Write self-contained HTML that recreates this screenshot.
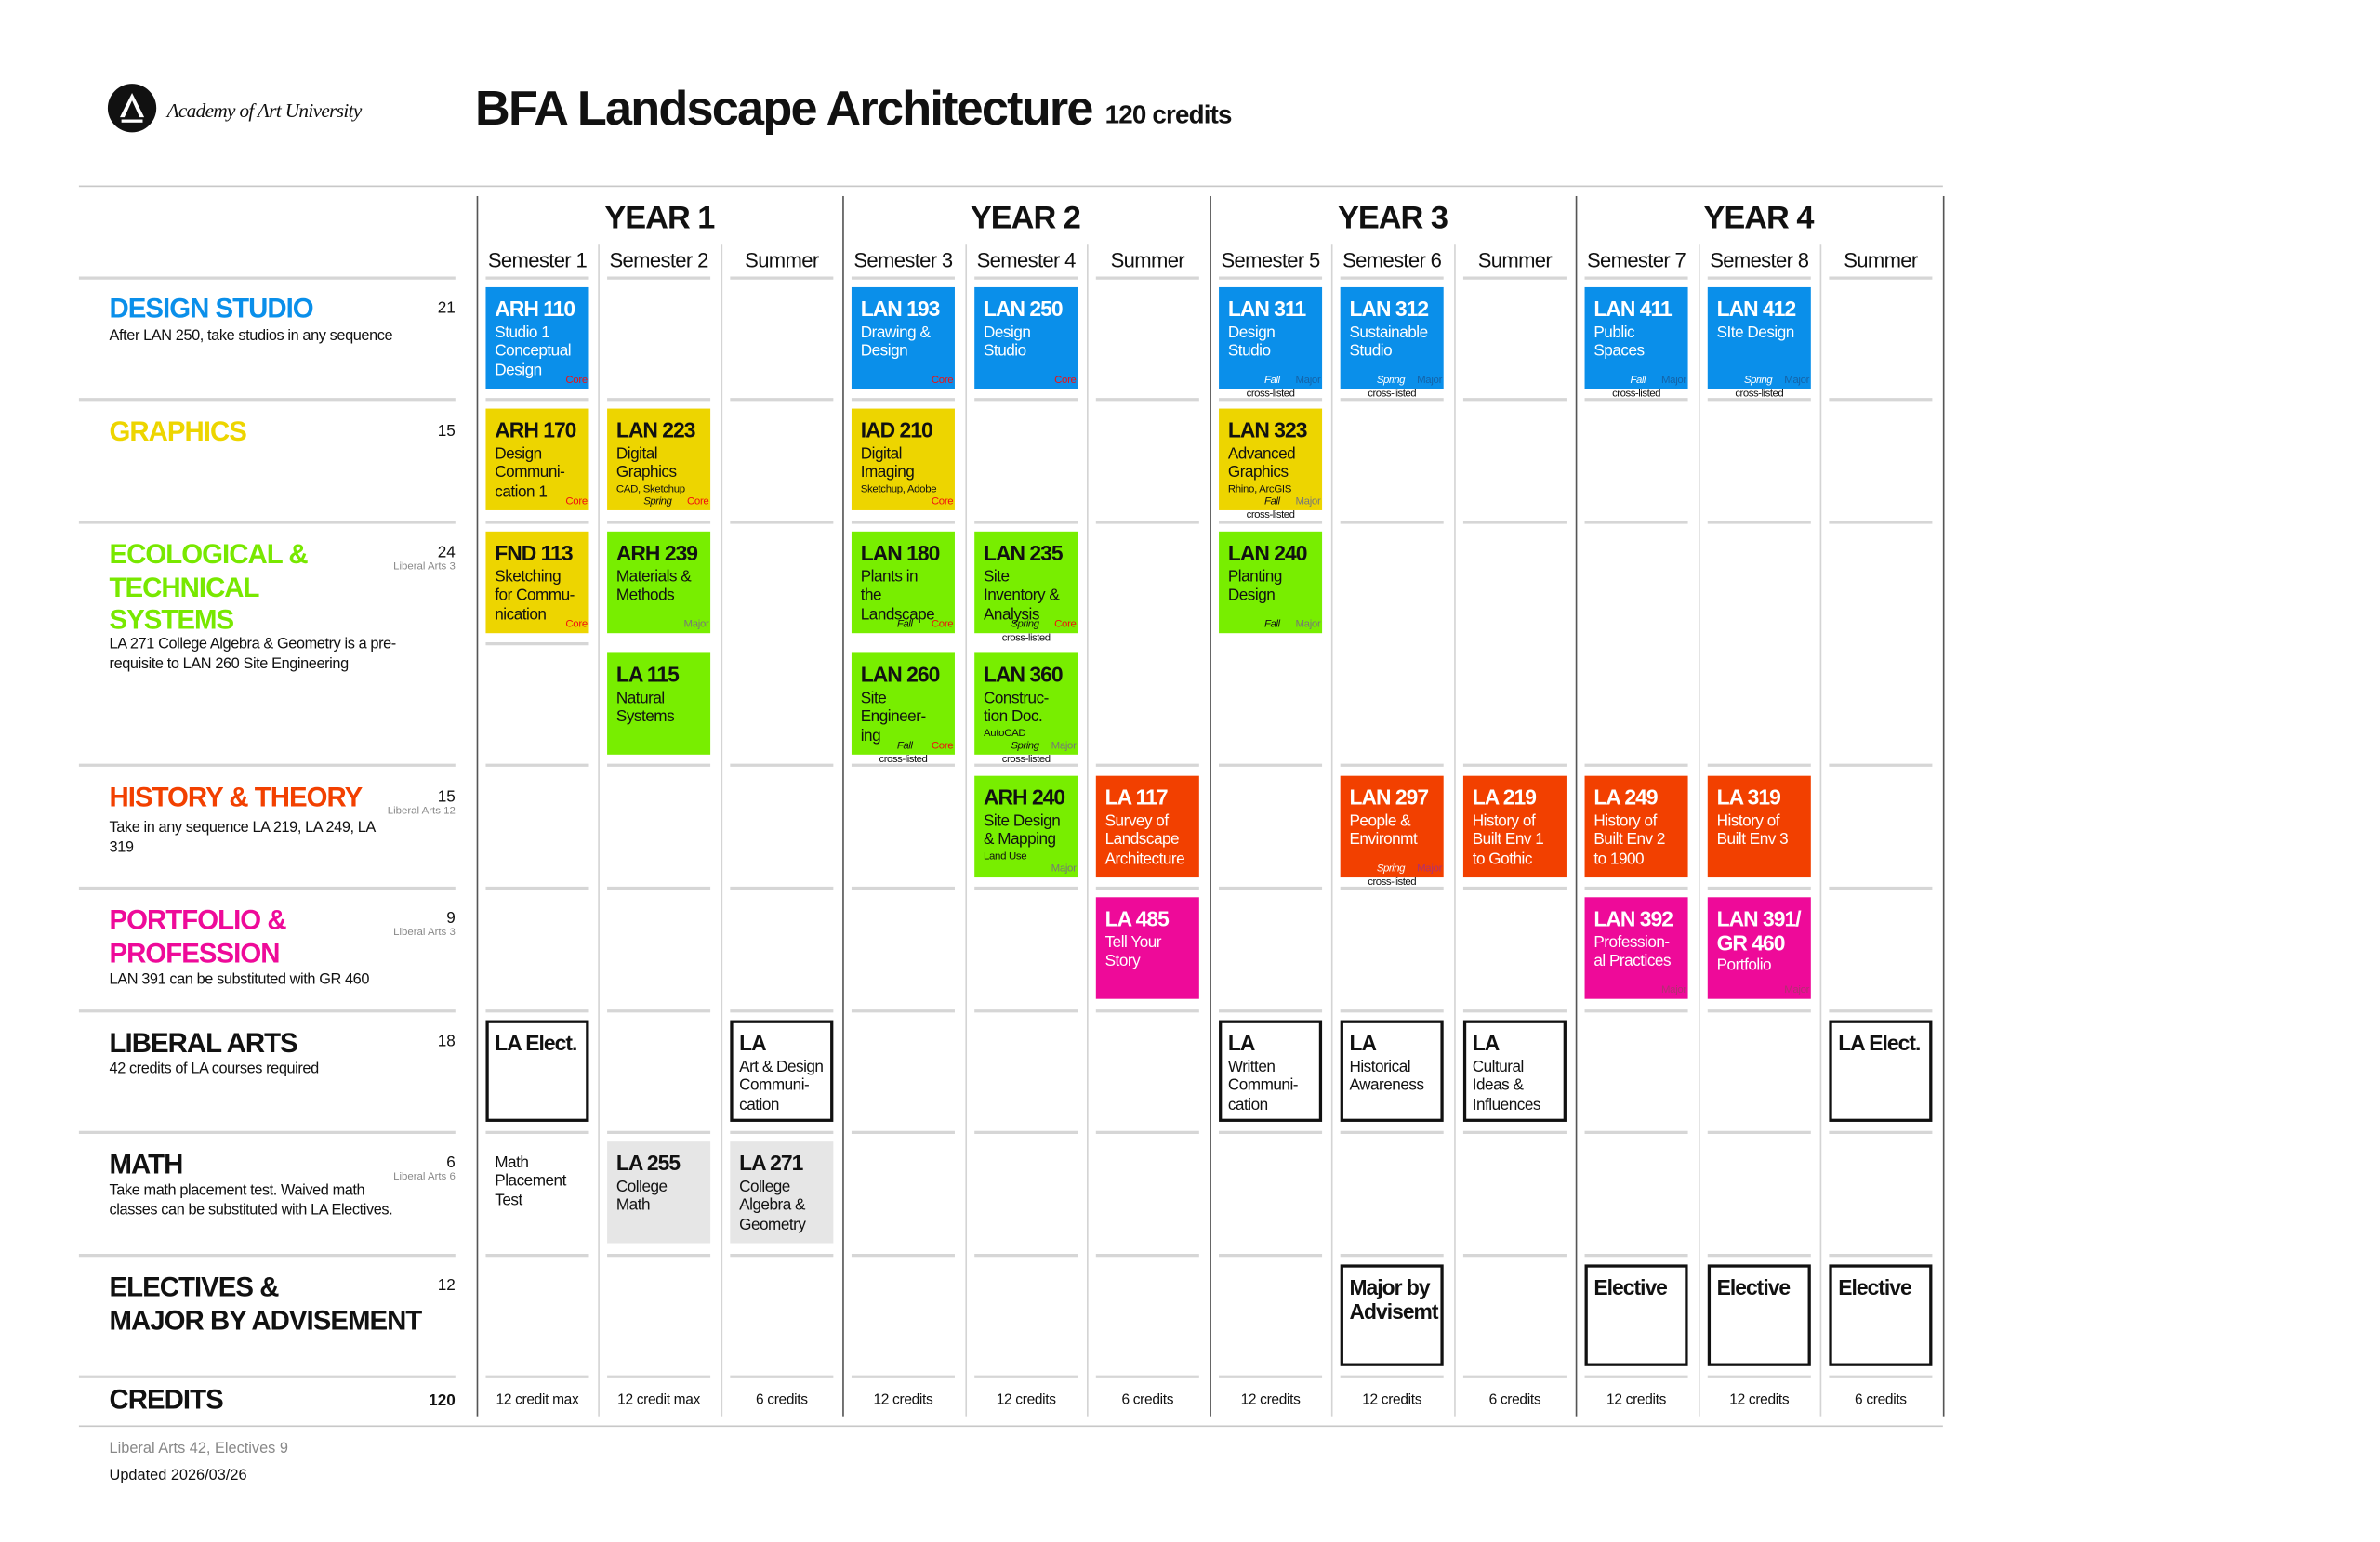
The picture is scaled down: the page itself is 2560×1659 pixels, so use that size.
<!DOCTYPE html>
<html><head><meta charset="utf-8"><style>
html,body{margin:0;padding:0;background:#fff;}
body{width:2560px;height:1656px;overflow:hidden;position:relative;}
#w{position:absolute;left:0;top:2px;width:1568px;height:1015px;transform:scale(1.6327);transform-origin:0 0;font-family:"Liberation Sans",Arial,sans-serif;color:#111;}
#w div{position:absolute;}
.vy{width:1px;background:#555;top:128px;height:804px;}
.vs{width:1px;background:#d4d4d4;top:160px;height:772px;}
.yr{font-weight:bold;font-size:21px;letter-spacing:-0.6px;width:241px;text-align:center;top:131px;}
.sm{font-size:13.5px;letter-spacing:-0.4px;width:80px;text-align:center;top:163px;}
.b{width:68px;height:67px;padding:6px 5px 5px 6px;box-sizing:border-box;font-size:10.5px;letter-spacing:-0.3px;line-height:12.3px;overflow:visible;white-space:nowrap;}
.b b{display:block;font-size:14px;letter-spacing:-0.6px;line-height:17px;margin-bottom:1px;}
.b i.s{display:block;font-style:normal;font-size:7px;line-height:9px;letter-spacing:-0.2px;}
.bl{background:#0A8FEA;color:#fff;}
.ye{background:#EDD500;color:#111;}
.gr{background:#78EE00;color:#111;}
.or{background:#F24000;color:#fff;}
.mg{background:#EE0A99;color:#fff;}
.gy{background:#e6e6e6;color:#111;}
.bx{background:#fff;border:2px solid #111;padding:5px 4px;}
.tg{font-size:7px;line-height:8px;bottom:1px;right:1px;letter-spacing:-0.2px;}
.core{color:#f01010;}
.maj{color:#777;}
.bl .maj{color:#1463a8;}
.or .maj,.mg .maj{color:#b03070;}
.fs{font-size:7px;line-height:8px;font-style:italic;bottom:1px;}
.cl{font-size:7px;line-height:8px;bottom:-8px;left:0;width:68px;text-align:center;color:#111;}
.ht{left:72px;font-weight:bold;font-size:18px;letter-spacing:-0.6px;line-height:21.5px;white-space:nowrap;}
.hs{left:72px;font-size:10px;letter-spacing:-0.25px;line-height:13px;color:#111;width:200px;}
.cn{right:1268px;font-size:10.5px;text-align:right;}
.la{right:1268px;font-size:7px;color:#888;text-align:right;white-space:nowrap;}
.cr{font-size:9.5px;letter-spacing:-0.2px;width:80px;text-align:center;top:916px;}
</style></head><body><div id="w">

<div style="left:71px;top:54px;width:32px;height:32px;border-radius:50%;background:#111;"></div>
<svg style="position:absolute;left:71px;top:54px" width="32" height="32" viewBox="0 0 32 32"><path d="M16 6 L8 22 L11 22 L16 11 L21 22 L24 22 Z" fill="#fff"/><rect x="9" y="23.5" width="14" height="2" fill="#fff"/></svg>
<div style="left:110px;top:64px;font-family:'Liberation Serif',serif;font-style:italic;font-size:13px;letter-spacing:-0.4px;">Academy of Art University</div>
<div style="left:313px;top:52px;font-weight:bold;font-size:32px;letter-spacing:-1.1px;">BFA Landscape Architecture</div>
<div style="left:728px;top:65px;font-weight:bold;font-size:17px;letter-spacing:-0.5px;">120 credits</div>

<div style="left:52px;top:121px;width:1228px;height:1px;background:#c8c8c8;"></div>
<div style="left:52px;top:938px;width:1228px;height:1px;background:#c8c8c8;"></div>

<div class="vy" style="left:314px"></div><div class="vy" style="left:555px"></div><div class="vy" style="left:797px"></div><div class="vy" style="left:1038px"></div><div class="vy" style="left:1280px"></div>
<div class="vs" style="left:394px"></div><div class="vs" style="left:475px"></div>
<div class="vs" style="left:636px"></div><div class="vs" style="left:716px"></div>
<div class="vs" style="left:877px"></div><div class="vs" style="left:958px"></div>
<div class="vs" style="left:1119px"></div><div class="vs" style="left:1199px"></div>

<div class="yr" style="left:314px">YEAR 1</div><div class="yr" style="left:555px">YEAR 2</div><div class="yr" style="left:797px">YEAR 3</div><div class="yr" style="left:1038px">YEAR 4</div>
<div class="sm" style="left:314px">Semester 1</div><div class="sm" style="left:394px">Semester 2</div><div class="sm" style="left:475px">Summer</div>
<div class="sm" style="left:555px">Semester 3</div><div class="sm" style="left:636px">Semester 4</div><div class="sm" style="left:716px">Summer</div>
<div class="sm" style="left:797px">Semester 5</div><div class="sm" style="left:877px">Semester 6</div><div class="sm" style="left:958px">Summer</div>
<div class="sm" style="left:1038px">Semester 7</div><div class="sm" style="left:1119px">Semester 8</div><div class="sm" style="left:1199px">Summer</div>

<svg style="position:absolute;left:0;top:0" width="1568" height="1015">
<defs><path id="r" d="M320 0h68M400 0h68M481 0h68M561 0h68M642 0h68M722 0h68M803 0h68M883 0h68M964 0h68M1044 0h68M1125 0h68M1205 0h68"/></defs>
<g stroke="#d6d6d6" stroke-width="2">
<path d="M52 182H300M52 262H300M52 343H300M52 503H300M52 584H300M52 665H300M52 745H300M52 826H300M52 906H300"/>
<use href="#r" y="182"/><use href="#r" y="262"/><use href="#r" y="343"/><use href="#r" y="503"/><use href="#r" y="584"/><use href="#r" y="665"/><use href="#r" y="745"/><use href="#r" y="826"/><use href="#r" y="906"/>
<path d="M320 423h68"/>
</g></svg>

<div class="ht" style="top:192px;color:#0A8FEA">DESIGN STUDIO</div>
<div class="cn" style="top:196px">21</div>
<div class="hs" style="top:214px">After LAN 250, take studios in any sequence</div>

<div class="ht" style="top:273px;color:#EDD500">GRAPHICS</div>
<div class="cn" style="top:277px">15</div>

<div class="ht" style="top:354px;color:#78E800">ECOLOGICAL &amp;<br>TECHNICAL<br>SYSTEMS</div>
<div class="cn" style="top:357px">24</div>
<div class="la" style="top:369px">Liberal Arts 3</div>
<div class="hs" style="top:417px;width:190px">LA 271 College Algebra &amp; Geometry is a pre-requisite to LAN 260 Site Engineering</div>

<div class="ht" style="top:514px;color:#F24000">HISTORY &amp; THEORY</div>
<div class="cn" style="top:518px">15</div>
<div class="la" style="top:530px">Liberal Arts 12</div>
<div class="hs" style="top:538px;width:175px">Take in any sequence LA 219, LA 249, LA 319</div>

<div class="ht" style="top:595px;color:#EE0A99">PORTFOLIO &amp;<br>PROFESSION</div>
<div class="cn" style="top:598px">9</div>
<div class="la" style="top:610px">Liberal Arts 3</div>
<div class="hs" style="top:638px">LAN 391 can be substituted with GR 460</div>

<div class="ht" style="top:676px">LIBERAL ARTS</div>
<div class="cn" style="top:679px">18</div>
<div class="hs" style="top:697px">42 credits of LA courses required</div>

<div class="ht" style="top:756px">MATH</div>
<div class="cn" style="top:759px">6</div>
<div class="la" style="top:771px">Liberal Arts 6</div>
<div class="hs" style="top:777px;width:200px">Take math placement test. Waived math classes can be substituted with LA Electives.</div>

<div class="ht" style="top:837px">ELECTIVES &amp;<br>MAJOR BY ADVISEMENT</div>
<div class="cn" style="top:840px">12</div>

<div class="ht" style="top:911px">CREDITS</div>
<div class="cn" style="top:916px;font-weight:bold">120</div>

<div class="b bl" style="left:320px;top:188px"><b>ARH 110</b>Studio 1<br>Conceptual<br>Design<div class="tg core">Core</div></div>
<div class="b bl" style="left:561px;top:188px"><b>LAN 193</b>Drawing &amp;<br>Design<div class="tg core">Core</div></div>
<div class="b bl" style="left:642px;top:188px"><b>LAN 250</b>Design<br>Studio<div class="tg core">Core</div></div>
<div class="b bl" style="left:803px;top:188px"><b>LAN 311</b>Design<br>Studio<div class="fs" style="left:30px">Fall</div><div class="tg maj">Major</div><div class="cl">cross-listed</div></div>
<div class="b bl" style="left:883px;top:188px"><b>LAN 312</b>Sustainable<br>Studio<div class="fs" style="left:24px">Spring</div><div class="tg maj">Major</div><div class="cl">cross-listed</div></div>
<div class="b bl" style="left:1044px;top:188px"><b>LAN 411</b>Public<br>Spaces<div class="fs" style="left:30px">Fall</div><div class="tg maj">Major</div><div class="cl">cross-listed</div></div>
<div class="b bl" style="left:1125px;top:188px"><b>LAN 412</b>SIte Design<div class="fs" style="left:24px">Spring</div><div class="tg maj">Major</div><div class="cl">cross-listed</div></div>

<div class="b ye" style="left:320px;top:268px"><b>ARH 170</b>Design<br>Communi-<br>cation 1<div class="tg core">Core</div></div>
<div class="b ye" style="left:400px;top:268px"><b>LAN 223</b>Digital<br>Graphics<i class="s">CAD, Sketchup</i><div class="fs" style="left:24px">Spring</div><div class="tg core">Core</div></div>
<div class="b ye" style="left:561px;top:268px"><b>IAD 210</b>Digital<br>Imaging<i class="s">Sketchup, Adobe</i><div class="tg core">Core</div></div>
<div class="b ye" style="left:803px;top:268px"><b>LAN 323</b>Advanced<br>Graphics<i class="s">Rhino, ArcGIS</i><div class="fs" style="left:30px">Fall</div><div class="tg maj">Major</div><div class="cl">cross-listed</div></div>

<div class="b ye" style="left:320px;top:349px"><b>FND 113</b>Sketching<br>for Commu-<br>nication<div class="tg core">Core</div></div>
<div class="b gr" style="left:400px;top:349px"><b>ARH 239</b>Materials &amp;<br>Methods<div class="tg maj">Major</div></div>
<div class="b gr" style="left:561px;top:349px"><b>LAN 180</b>Plants in<br>the<br>Landscape<div class="fs" style="left:30px">Fall</div><div class="tg core">Core</div></div>
<div class="b gr" style="left:642px;top:349px"><b>LAN 235</b>Site<br>Inventory &amp;<br>Analysis<div class="fs" style="left:24px">Spring</div><div class="tg core">Core</div><div class="cl">cross-listed</div></div>
<div class="b gr" style="left:803px;top:349px"><b>LAN 240</b>Planting<br>Design<div class="fs" style="left:30px">Fall</div><div class="tg maj">Major</div></div>

<div class="b gr" style="left:400px;top:429px"><b>LA 115</b>Natural<br>Systems</div>
<div class="b gr" style="left:561px;top:429px"><b>LAN 260</b>Site<br>Engineer-<br>ing<div class="fs" style="left:30px">Fall</div><div class="tg core">Core</div><div class="cl">cross-listed</div></div>
<div class="b gr" style="left:642px;top:429px"><b>LAN 360</b>Construc-<br>tion Doc.<i class="s">AutoCAD</i><div class="fs" style="left:24px">Spring</div><div class="tg maj">Major</div><div class="cl">cross-listed</div></div>

<div class="b gr" style="left:642px;top:510px"><b>ARH 240</b>Site Design<br>&amp; Mapping<i class="s">Land Use</i><div class="tg maj">Major</div></div>
<div class="b or" style="left:722px;top:510px"><b>LA 117</b>Survey of<br>Landscape<br>Architecture</div>
<div class="b or" style="left:883px;top:510px"><b>LAN 297</b>People &amp;<br>Environmt<div class="fs" style="left:24px">Spring</div><div class="tg maj">Major</div><div class="cl">cross-listed</div></div>
<div class="b or" style="left:964px;top:510px"><b>LA 219</b>History of<br>Built Env 1<br>to Gothic</div>
<div class="b or" style="left:1044px;top:510px"><b>LA 249</b>History of<br>Built Env 2<br>to 1900</div>
<div class="b or" style="left:1125px;top:510px"><b>LA 319</b>History of<br>Built Env 3</div>

<div class="b mg" style="left:722px;top:590px"><b>LA 485</b>Tell Your<br>Story</div>
<div class="b mg" style="left:1044px;top:590px"><b>LAN 392</b>Profession-<br>al Practices<div class="tg maj">Major</div></div>
<div class="b mg" style="left:1125px;top:590px"><b style="line-height:16px">LAN 391/<br>GR 460</b>Portfolio<div class="tg maj">Major</div></div>

<div class="b bx" style="left:320px;top:671px"><b>LA Elect.</b></div>
<div class="b bx" style="left:481px;top:671px"><b>LA</b>Art &amp; Design<br>Communi-<br>cation</div>
<div class="b bx" style="left:803px;top:671px"><b>LA</b>Written<br>Communi-<br>cation</div>
<div class="b bx" style="left:883px;top:671px"><b>LA</b>Historical<br>Awareness</div>
<div class="b bx" style="left:964px;top:671px"><b>LA</b>Cultural<br>Ideas &amp;<br>Influences</div>
<div class="b bx" style="left:1205px;top:671px"><b>LA Elect.</b></div>

<div class="b" style="left:320px;top:753px">Math<br>Placement<br>Test</div>
<div class="b gy" style="left:400px;top:751px"><b>LA 255</b>College<br>Math</div>
<div class="b gy" style="left:481px;top:751px"><b>LA 271</b>College<br>Algebra &amp;<br>Geometry</div>

<div class="b bx" style="left:883px;top:832px"><b style="line-height:16px">Major by<br>Advisemt</b></div>
<div class="b bx" style="left:1044px;top:832px"><b>Elective</b></div>
<div class="b bx" style="left:1125px;top:832px"><b>Elective</b></div>
<div class="b bx" style="left:1205px;top:832px"><b>Elective</b></div>

<div class="cr" style="left:314px">12 credit max</div><div class="cr" style="left:394px">12 credit max</div><div class="cr" style="left:475px">6 credits</div>
<div class="cr" style="left:555px">12 credits</div><div class="cr" style="left:636px">12 credits</div><div class="cr" style="left:716px">6 credits</div>
<div class="cr" style="left:797px">12 credits</div><div class="cr" style="left:877px">12 credits</div><div class="cr" style="left:958px">6 credits</div>
<div class="cr" style="left:1038px">12 credits</div><div class="cr" style="left:1119px">12 credits</div><div class="cr" style="left:1199px">6 credits</div>

<div style="left:72px;top:948px;font-size:10px;color:#888">Liberal Arts 42, Electives 9</div>
<div style="left:72px;top:966px;font-size:10px;color:#111">Updated 2026/03/26</div>
</div></body></html>
